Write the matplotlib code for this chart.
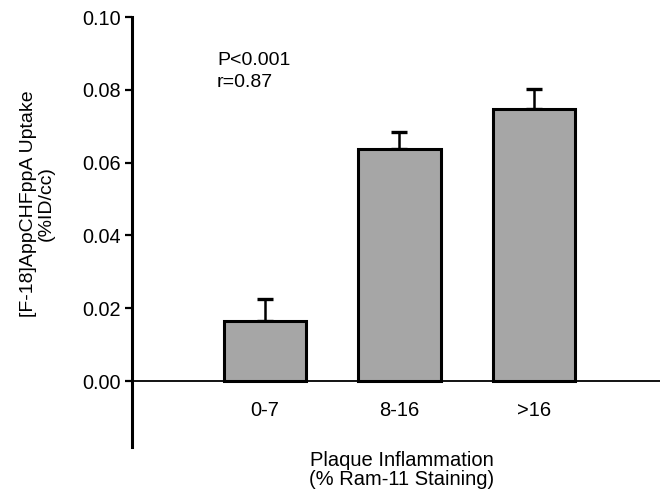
import matplotlib
matplotlib.use("Agg")
import matplotlib.pyplot as plt
import numpy as np

plt.rcParams['font.family'] = ['Liberation Sans', 'DejaVu Sans']

categories = ["0-7", "8-16", ">16"]
uptake = [0.0165, 0.0638, 0.0746]
sem = [0.0060, 0.0046, 0.0056]
yticks = [0.00, 0.02, 0.04, 0.06, 0.08, 0.10]

fig = plt.figure(figsize=(6.6, 4.95), dpi=100)
ax = fig.add_axes([132/660, 1-447/495, 1-132/660, (447-17)/495])

x = np.arange(len(categories))
ax.bar(x, uptake, width=0.61, color='#a6a6a6', edgecolor='black', linewidth=2.2, zorder=3)
ax.errorbar(x, uptake, yerr=[np.zeros(len(sem)), sem], fmt='none', ecolor='black',
            elinewidth=1.8, capsize=5.5, capthick=2.4, zorder=2)

ax.set_xlim(-0.989, 2.937)
ax.set_ylim(-0.0181, 0.10)

for s in ['top', 'right']:
    ax.spines[s].set_visible(False)
ax.spines['left'].set_linewidth(2.2)
ax.spines['bottom'].set_position(('data', 0))
ax.spines['bottom'].set_linewidth(1.3)
ax.spines['bottom'].set_zorder(4)

ax.set_yticks(yticks)
ax.set_yticklabels([f"{v:.2f}" for v in yticks])
ax.tick_params(axis='y', length=5, width=1.6, labelsize=14.3, pad=3)
ax.set_xticks(x)
ax.set_xticklabels(categories)
ax.tick_params(axis='x', length=0, labelsize=14.5, pad=14)

fig.text(217/660, 1-71.5/495, "P<0.001\nr=0.87", ha='left', va='center',
         multialignment='left', fontsize=14, linespacing=1.35)

fig.text(37/660, 1-204/495, "[F-18]AppCHFppA Uptake\n(%ID/cc)", rotation=90,
         ha='center', va='center', multialignment='center', fontsize=14, linespacing=1.05)
fig.text(402/660, 1-470/495, "Plaque Inflammation\n(% Ram-11 Staining)",
         ha='center', va='center', multialignment='center', fontsize=14.5, linespacing=1.05)

fig.savefig("out.png", dpi=100)
